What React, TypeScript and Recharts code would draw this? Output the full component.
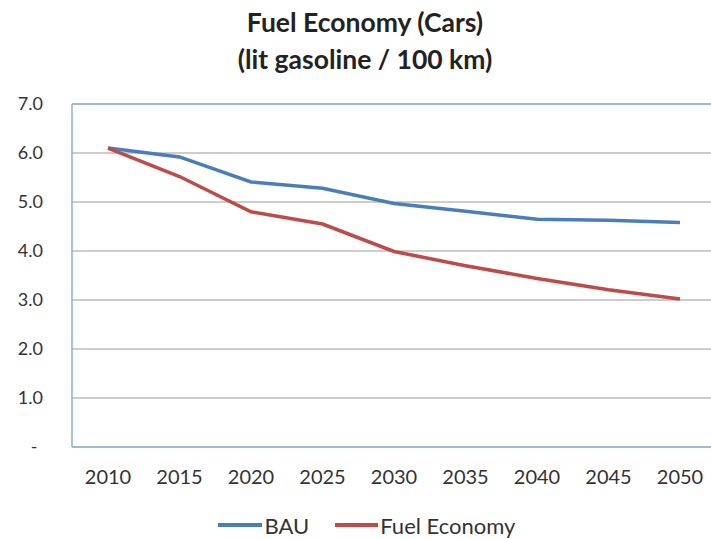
import {
  LineChart,
  Line,
  XAxis,
  YAxis,
  CartesianGrid,
  Legend,
  ReferenceLine,
} from "recharts";

const years = ["2010", "2015", "2020", "2025", "2030", "2035", "2040", "2045", "2050"];
const bau = [6.1, 5.92, 5.41, 5.28, 4.97, 4.81, 4.65, 4.63, 4.58];
const fuelEconomy = [6.1, 5.52, 4.8, 4.55, 3.99, 3.7, 3.44, 3.21, 3.02];
const yTicks = [0, 1, 2, 3, 4, 5, 6, 7];

const data = years.map((year, i) => ({
  year,
  bau: bau[i],
  fuel: fuelEconomy[i],
}));

const FONT = "Lato, 'Open Sans', sans-serif";
const BLUE = "#4a7ebb";
const RED = "#be4b48";
const AXIS = "#8eb0da";

const YTick = ({ x, y, payload }: any) => {
  const v = payload.value as number;
  if (v === 0) {
    return (
      <text x={34} y={y} dy="0.35em" textAnchor="middle" fontSize={18} fill="#333" fontFamily={FONT}>
        -
      </text>
    );
  }
  return (
    <text x={x} y={y} dy="0.36em" textAnchor="end" fontSize={18} fill="#333" fontFamily={FONT}>
      {v.toFixed(1)}
    </text>
  );
};

const LegendContent = () => (
  <div
    style={{
      height: 40,
      display: "flex",
      justifyContent: "center",
      alignItems: "center",
      paddingTop: 12,
      paddingLeft: 22,
      boxSizing: "border-box",
      fontFamily: FONT,
      fontSize: 22,
      color: "#333",
    }}
  >
    <span style={{ display: "inline-block", width: 44, height: 3.5, background: BLUE, marginRight: 3 }} />
    <span style={{ marginRight: 26 }}>BAU</span>
    <span style={{ display: "inline-block", width: 43, height: 3.5, background: RED, marginRight: 2 }} />
    <span>Fuel Economy</span>
  </div>
);

const App = () => {
  return (
    <div style={{ position: "absolute", left: 0, top: 0, width: 711, height: 539, background: "#fff" }}>
      <div
        style={{
          position: "absolute",
          left: 0,
          top: 4,
          width: 730,
          textAlign: "center",
          fontFamily: FONT,
          fontWeight: 700,
          fontSize: 26.5,
          lineHeight: "37px",
          color: "#222",
        }}
      >
        Fuel Economy (Cars)
        <br />
        (lit gasoline / 100 km)
      </div>
      <LineChart
        width={711}
        height={539}
        data={data}
        margin={{ top: 104, right: 0, bottom: 0, left: 0 }}
      >
        <CartesianGrid vertical={false} stroke="#bdbdbd" strokeWidth={1.5} />
        <ReferenceLine y={7} stroke={AXIS} strokeWidth={1.5} />
        <XAxis
          dataKey="year"
          height={52}
          padding={{ left: 36, right: 31 }}
          tickLine={false}
          tickSize={0}
          tickMargin={23}
          stroke={AXIS}
          strokeWidth={1.5}
          tick={{ fontSize: 20, fill: "#333", fontFamily: FONT }}
          interval={0}
        />
        <YAxis
          width={72}
          domain={[0, 7]}
          ticks={yTicks}
          tickLine={false}
          tickSize={0}
          tickMargin={29}
          stroke={AXIS}
          strokeWidth={1.5}
          tick={<YTick />}
          interval={0}
        />
        <Legend verticalAlign="bottom" content={<LegendContent />} />
        <Line
          dataKey="bau"
          stroke={BLUE}
          strokeWidth={3.5}
          dot={false}
          isAnimationActive={false}
        />
        <Line
          dataKey="fuel"
          stroke={RED}
          strokeWidth={3.5}
          dot={false}
          isAnimationActive={false}
        />
      </LineChart>
    </div>
  );
};

export default App;
